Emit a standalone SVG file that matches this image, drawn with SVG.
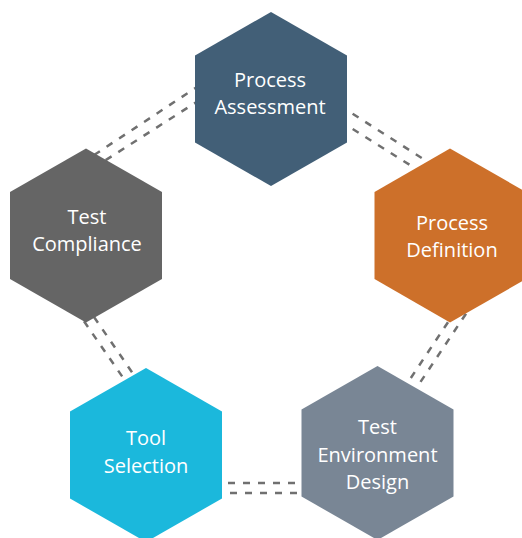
<svg xmlns="http://www.w3.org/2000/svg" width="522" height="538" viewBox="0 0 522 538">
<style>
.c line{stroke:#707070;stroke-width:2.5;stroke-dasharray:7 8;fill:none}
text{font-family:"Open Sans","Noto Sans",sans-serif;font-size:20px;fill:#ffffff;text-anchor:middle}
</style>
<rect width="522" height="538" fill="#ffffff"/>
<g id="connectors" class="c">
<line x1="200" y1="85" x2="92" y2="156.4"/>
<line x1="200" y1="99.8" x2="100" y2="163.8"/>
<line x1="340" y1="105.7" x2="435" y2="166.5"/>
<line x1="340" y1="121" x2="425" y2="174.5"/>
<line x1="466" y1="313.7" x2="418" y2="385.7"/>
<line x1="448" y1="322.2" x2="405" y2="386.7"/>
<line x1="84" y1="321.3" x2="124" y2="379.1"/>
<line x1="94" y1="317" x2="132" y2="372.2"/>
<line x1="228" y1="483" x2="305" y2="483"/>
<line x1="230" y1="493" x2="305" y2="493"/>
</g>
<g id="process-assessment">
<polygon points="271,12 347,55.5 347,142.5 271,186 195,142.5 195,55.5" fill="#425f77"/>
<text x="270" y="87">Process</text>
<text x="270" y="114">Assessment</text>
</g>
<g id="test-compliance">
<polygon points="86,148.5 162,192 162,279 86,322.5 10,279 10,192" fill="#656565"/>
<text x="87" y="223.5">Test</text>
<text x="87" y="250.5">Compliance</text>
</g>
<g id="process-definition">
<polygon points="450,148.5 526,192 526,279 450,322.5 374.5,279 374.5,192" fill="#cd702a"/>
<text x="452" y="229.5">Process</text>
<text x="452" y="256.5">Definition</text>
</g>
<g id="tool-selection">
<polygon points="146,368 222,411.5 222,498.5 146,542 70,498.5 70,411.5" fill="#1bb8dc"/>
<text x="146" y="445">Tool</text>
<text x="146" y="472.5">Selection</text>
</g>
<g id="test-environment-design">
<polygon points="377.5,366 453.5,409.5 453.5,496.5 377.5,540 301.5,496.5 301.5,409.5" fill="#798695"/>
<text x="377.5" y="433.5">Test</text>
<text x="377.5" y="461.5">Environment</text>
<text x="377.5" y="488.5">Design</text>
</g>
</svg>
